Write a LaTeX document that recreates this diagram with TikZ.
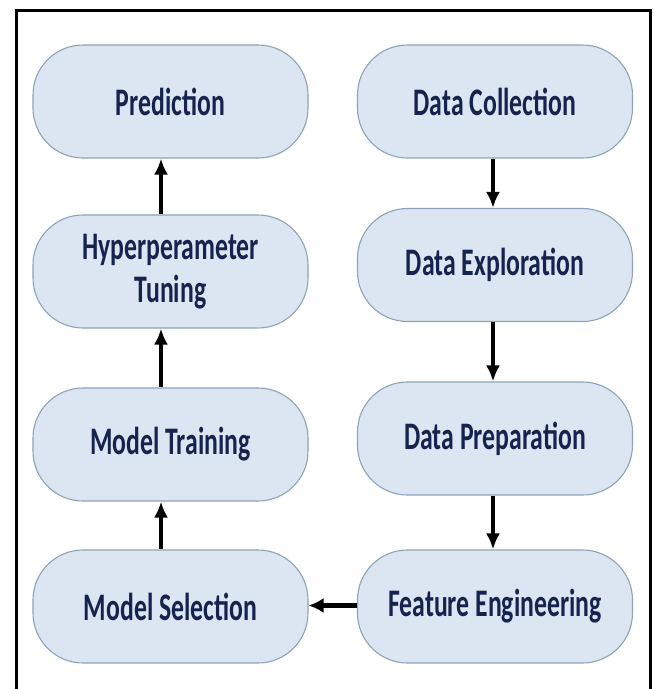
\documentclass[tikz,border=0pt]{standalone}
\usepackage{fontspec}
\usetikzlibrary{arrows.meta}
\newfontfamily\boxfont[FakeStretch=0.66]{Carlito}
\definecolor{boxfill}{HTML}{DCE6F2}
\definecolor{boxline}{HTML}{8EA3B8}
\definecolor{boxtext}{HTML}{17234F}
\tikzset{
  stage/.style={draw=boxline, line width=1.1pt, fill=boxfill, rounded corners=50pt,
    minimum width=275pt, minimum height=113pt, inner sep=0pt, align=center,
    text=boxtext, font=\boxfont\bfseries\fontsize{39}{43}\selectfont},
  flow/.style={line width=4pt, -{Latex[length=16pt,width=14pt]}},
  flowh/.style={line width=5pt, -{Latex[length=15pt,width=15pt]}},
  frame/.style={line width=3pt}
}
\begin{document}
\begin{tikzpicture}[x=1pt,y=-1pt]
\useasboundingbox (0,0) rectangle (654,689);
\fill[white] (0,0) rectangle (654,689);
\coordinate (fbl) at (16.5,700);
\coordinate (ftl) at (16.5,10);
\coordinate (ftr) at (650,10);
\coordinate (fbr) at (650,700);
\draw[frame] (fbl) -- (ftl) -- (ftr) -- (fbr);
% left column
\node[stage] (pred) at (170.5,101.5) {Prediction};
\node[stage] (hyp) at (170.5,271.5) {Hyperperameter\\Tuning};
\node[stage] (mt) at (170.5,444.5) {Model Training};
\node[stage] (ms) at (170.5,606.5) {Model Selection};
% right column
\node[stage] (dc) at (495,101.5) {Data Collection};
\node[stage] (de) at (495,265) {Data Exploration};
\node[stage] (dp) at (495,438.5) {Data Preparation};
\node[stage] (fe) at (495,606.5) {Feature Engineering};
% arrows
\draw[flow] ([xshift=-2pt]dc.south) -- ([xshift=-2pt]de.north);
\draw[flow] ([xshift=-2pt]de.south) -- ([xshift=-2pt]dp.north);
\draw[flow] ([xshift=-2pt]dp.south) -- ([xshift=-2pt]fe.north);
\draw[flowh] ([yshift=1pt]fe.west) -- ([yshift=1pt]ms.east);
\draw[flow] ([xshift=-9.5pt]ms.north) -- ([xshift=-9.5pt]mt.south);
\draw[flow] ([xshift=-9.5pt]mt.north) -- ([xshift=-9.5pt]hyp.south);
\draw[flow] ([xshift=-9.5pt]hyp.north) -- ([xshift=-9.5pt]pred.south);
\end{tikzpicture}
\end{document}
